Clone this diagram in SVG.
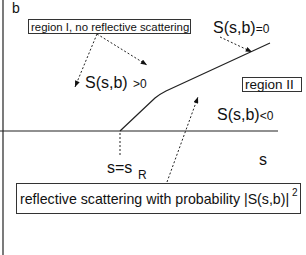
<svg xmlns="http://www.w3.org/2000/svg" width="306" height="255" viewBox="0 0 306 255">
<style>
text{font-family:"Liberation Sans",Arial,sans-serif;fill:#111}
.ax{stroke:#222;stroke-width:1.2;fill:none}
.box{fill:#fff;stroke:#333;stroke-width:1}
.dash{stroke:#222;stroke-width:1;stroke-dasharray:2 2;fill:none}
.arr{stroke:#222;stroke-width:1;stroke-dasharray:2 2;fill:none;marker-end:url(#ah)}
</style>
<defs>
<marker id="ah" viewBox="0 0 10 8" refX="10" refY="4" markerWidth="7" markerHeight="5" markerUnits="userSpaceOnUse" orient="auto">
<path d="M0,0 L10,4 L0,8 Z" fill="#111"/>
</marker>
</defs>
<g id="axes">
<line class="ax" x1="3" y1="0" x2="3" y2="255"/>
<line class="ax" x1="0" y1="131" x2="278" y2="131"/>
<text x="12" y="13" font-size="14">b</text>
<text x="259" y="165" font-size="16">s</text>
</g>
<g id="boundary">
<path class="ax" d="M120,131 L155,98 Q160,94 166,91 L270,43"/>
</g>
<g id="region1">
<rect class="box" x="28.5" y="19.5" width="162" height="14"/>
<text x="31" y="30.5" font-size="11.4">region I, no reflective scattering</text>
</g>
<g id="region2">
<rect class="box" x="242.5" y="77.5" width="59" height="14"/>
<text x="245" y="89" font-size="13.5">region II</text>
</g>
<g id="s-pos">
<text x="85" y="88" font-size="16">S(s,b)</text>
<text x="133" y="88" font-size="12">&gt;0</text>
</g>
<g id="s-zero">
<text x="213" y="33" font-size="16">S(s,b)<tspan font-size="12">=0</tspan></text>
</g>
<g id="s-neg">
<text x="217" y="120" font-size="16">S(s,b)<tspan font-size="12">&lt;0</tspan></text>
</g>
<g id="sR">
<text x="107" y="173" font-size="16">s=s</text>
<text x="138" y="179" font-size="12">R</text>
</g>
<g id="bottom-box">
<rect class="box" x="16.5" y="183.5" width="284" height="30"/>
<text x="20" y="204" font-size="14.2">reflective scattering with probability |S(s,b)|</text>
<text x="292" y="196" font-size="10">2</text>
</g>
<g id="connectors">
<line class="arr" x1="97" y1="34" x2="75" y2="87"/>
<line class="arr" x1="97" y1="34" x2="147" y2="65"/>
<line class="arr" x1="220" y1="37" x2="252" y2="52"/>
<line class="arr" x1="167" y1="182" x2="198" y2="97"/>
<line class="dash" x1="120" y1="133" x2="120" y2="155"/>
</g>
</svg>
